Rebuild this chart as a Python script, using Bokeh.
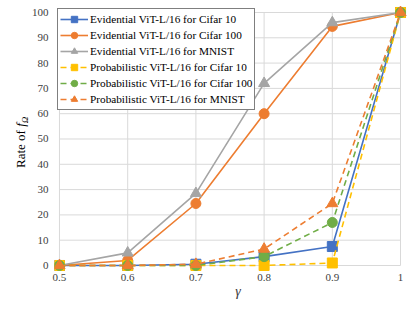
from bokeh.plotting import figure
from bokeh.models import Range1d, FixedTicker, Legend, LegendItem, Div
from bokeh.layouts import row
from bokeh.embed import file_html
from bokeh.resources import INLINE

gamma = [0.5, 0.6, 0.7, 0.8, 0.9, 1.0]
evi_cifar10 = [0, 0, 0.5, 3.5, 7.5, 100]
evi_cifar100 = [0, 2, 24.5, 60, 94.5, 100]
evi_mnist = [0, 5, 28.5, 72, 96, 100]
prob_cifar10 = [0, 0, 0, 0, 1, 100]
prob_cifar100 = [0, 0, 0, 3.5, 17, 100]
prob_mnist = [0, 0, 0.5, 6.5, 24.5, 100]

series_names = [
    "Evidential ViT-L/16 for Cifar 10",
    "Evidential ViT-L/16 for Cifar 100",
    "Evidential ViT-L/16 for MNIST",
    "Probabilistic ViT-L/16 for Cifar 10",
    "Probabilistic ViT-L/16 for Cifar 100",
    "Probabilistic ViT-L/16 for MNIST",
]
x_ticks = [0.5, 0.6, 0.7, 0.8, 0.9, 1.0]
x_tick_labels = ["0.5", "0.6", "0.7", "0.8", "0.9", "1"]
y_ticks = [0, 10, 20, 30, 40, 50, 60, 70, 80, 90, 100]
x_title = "\u2003\u03b3"

FONT = "Liberation Serif"
GRID = "#D9D9D9"
TICK_COLOR = "#404040"
DIV_W = 28

# y-axis title as real HTML text (italic f with subscript Omega)
ytitle = Div(
    text=(
        f'<div style="position:relative;width:{DIV_W}px;height:314px;">'
        '<div style="position:absolute;left:14px;top:168px;transform:rotate(-90deg);'
        "transform-origin:0 0;white-space:nowrap;font-family:'Liberation Serif',serif;"
        'font-size:13px;line-height:13px;color:#000;">Rate of '
        '<i>f</i><span style="font-size:9px;font-style:italic;position:relative;top:3px;">\u03a9</span>'
        '</div></div>'
    ),
    width=DIV_W, height=314, margin=(0, 0, 0, 0),
)

p = figure(width=415 - DIV_W, height=314, output_backend="svg", toolbar_location=None,
           x_range=Range1d(0.4927, 1.01023), y_range=Range1d(-2.77, 104.74),
           min_border_left=25, min_border_right=8, min_border_top=0, min_border_bottom=42)
p.outline_line_color = None
p.xgrid.visible = False
p.ygrid.visible = False
p.margin = (0, 0, 0, 0)

# gridlines over the data extent only
p.segment(x0=[x_ticks[0]] * len(y_ticks), x1=[x_ticks[-1]] * len(y_ticks), y0=y_ticks, y1=y_ticks,
          line_color=GRID, line_width=1)
p.segment(x0=x_ticks, x1=x_ticks, y0=[y_ticks[0]] * len(x_ticks), y1=[y_ticks[-1]] * len(x_ticks),
          line_color=GRID, line_width=1)

for ax in (p.xaxis[0], p.yaxis[0]):
    ax.axis_line_color = None
    ax.major_tick_line_color = None
    ax.minor_tick_line_color = None
    ax.major_tick_out = 0
    ax.major_tick_in = 0
    ax.minor_tick_out = 0
    ax.minor_tick_in = 0
    ax.major_label_text_font = FONT
    ax.major_label_text_font_size = "11px"
    ax.major_label_text_color = TICK_COLOR

p.xaxis.ticker = FixedTicker(ticks=x_ticks)
p.xaxis.major_label_overrides = {t: l for t, l in zip(x_ticks, x_tick_labels)}
p.xaxis.major_label_standoff = 1
p.xaxis.axis_label = x_title
p.xaxis.axis_label_text_font = FONT
p.xaxis.axis_label_text_font_style = "italic"
p.xaxis.axis_label_text_font_size = "14px"
p.xaxis.axis_label_text_color = TICK_COLOR
p.xaxis.axis_label_standoff = 0
p.yaxis.ticker = FixedTicker(ticks=y_ticks)
p.yaxis.major_label_standoff = 6

series = [evi_cifar10, evi_cifar100, evi_mnist, prob_cifar10, prob_cifar100, prob_mnist]
colors = ["#4472C4", "#ED7D31", "#A5A5A5", "#FFC000", "#70AD47", "#ED7D31"]
markers = ["square", "circle", "triangle", "square", "circle", "triangle"]
sizes = [10, 10, 11, 10, 10, 11]
dashes = ["solid", "solid", "solid", "6 4", "6 4", "6 4"]

items = []
for name, ys, c, m, s, d in zip(series_names, series, colors, markers, sizes, dashes):
    r1 = p.line(gamma, ys, line_color=c, line_width=1.6, line_dash=d)
    r2 = p.scatter(gamma, ys, marker=m, size=s, fill_color=c, line_color=c)
    items.append(LegendItem(label=name, renderers=[r1, r2]))

legend = Legend(items=items, location=(3, 162))
legend.margin = 0
legend.padding = 2
legend.spacing = 0
legend.glyph_height = 16
legend.label_height = 16
legend.glyph_width = 28
legend.label_standoff = 2
legend.label_text_font = FONT
legend.label_text_font_size = "11.25px"
legend.label_text_color = "#000000"
legend.border_line_color = "#000000"
legend.border_line_width = 1
legend.background_fill_color = "white"
legend.background_fill_alpha = 1
p.add_layout(legend, "center")

layout = row(ytitle, p, spacing=0)
open("out.html", "w").write(file_html(layout, INLINE))
